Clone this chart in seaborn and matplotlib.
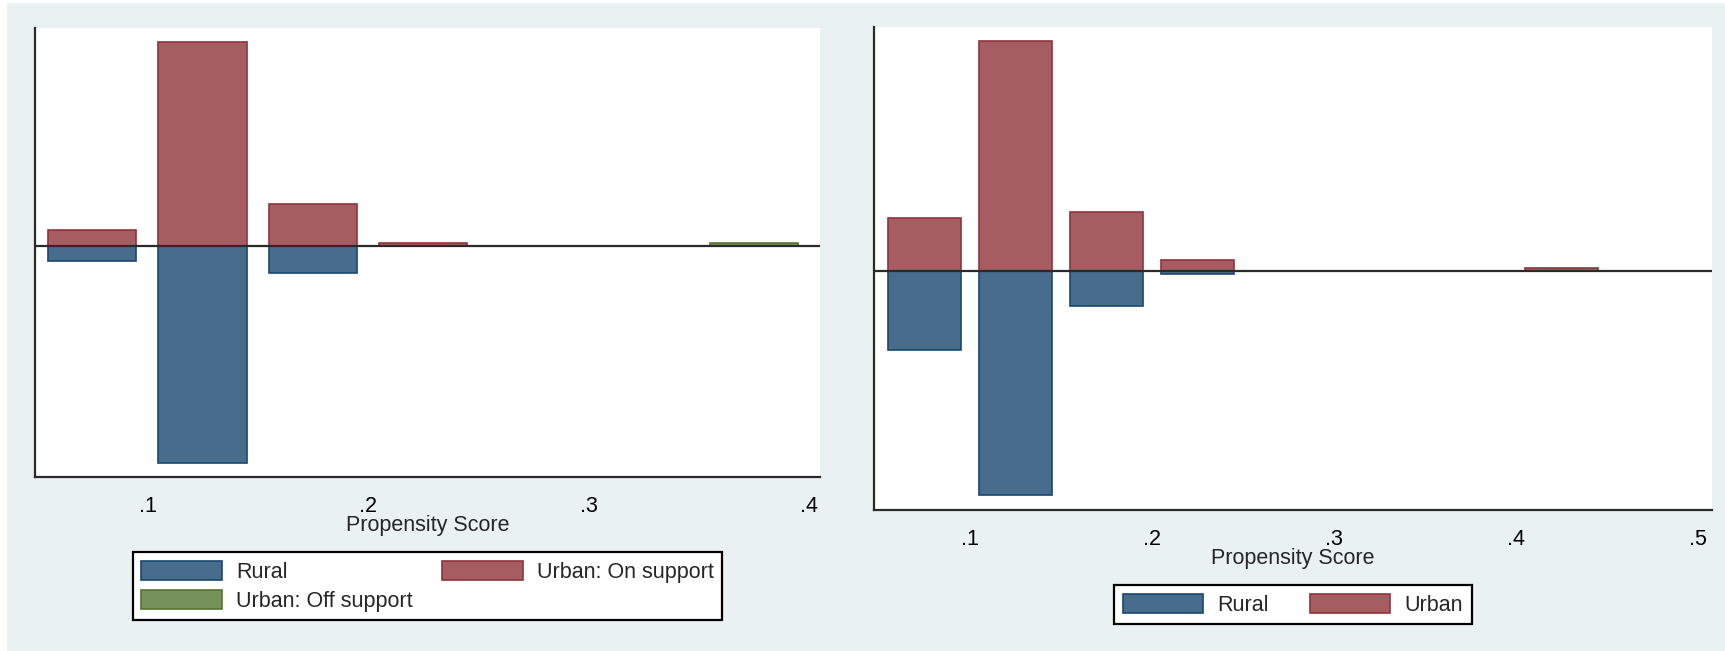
import numpy as np
import pandas as pd
import matplotlib
matplotlib.use("Agg")
import matplotlib.pyplot as plt
from matplotlib.patches import Patch, Rectangle
import seaborn as sns

# ---- data: propensity-score histograms (bin midpoints, share per bin) ----
left_bins_rural = [0.075, 0.125, 0.175]
left_rural = [0.061, 0.835, 0.104]
left_bins_on = [0.075, 0.125, 0.175, 0.225]
left_urban_on = [0.062, 0.785, 0.161, 0.011]
left_bins_off = [0.375]
left_urban_off = [0.011]
left_ticks = [0.1, 0.2, 0.3, 0.4]
left_ticklabels = [".1", ".2", ".3", ".4"]

right_bins_rural = [0.075, 0.125, 0.175, 0.225]
right_rural = [0.232, 0.655, 0.103, 0.010]
right_bins_urban = [0.075, 0.125, 0.175, 0.225, 0.425]
right_urban = [0.154, 0.670, 0.171, 0.030, 0.007]
right_ticks = [0.1, 0.2, 0.3, 0.4, 0.5]
right_ticklabels = [".1", ".2", ".3", ".4", ".5"]

x_title = "Propensity Score"

# ---- styling ----
sns.set_style("white")
plt.rcParams["font.family"] = ["Liberation Sans", "DejaVu Sans"]
FS = 15.5
BG = "#e9f1f2"
AXC = "#2a2a2a"
fills = {
    "Rural": "#486c8c",
    "Urban: On support": "#a65d62",
    "Urban: Off support": "#77915a",
    "Urban": "#a65d62",
}
edges = {
    "Rural": "#1a476f",
    "Urban: On support": "#90353b",
    "Urban: Off support": "#55752f",
    "Urban": "#90353b",
}

fig = plt.figure(figsize=(17.25, 6.51), dpi=100, facecolor="white")
fig.add_artist(Rectangle((7 / 1725, 0), 1 - 7 / 1725, 1 - 3 / 651,
                         transform=fig.transFigure, facecolor=BG,
                         edgecolor="none", zorder=-5))

ax_l = fig.add_axes([35 / 1725, 1 - 476.5 / 651, 785 / 1725, 448.5 / 651])
ax_r = fig.add_axes([873.5 / 1725, 1 - 510 / 651, 838.5 / 1725, 483 / 651])


def frame(groups):
    parts = []
    for name, xs, ys, sign in groups:
        parts.append(pd.DataFrame({"score": xs,
                                   "share": sign * np.asarray(ys, float),
                                   "group": name}))
    return pd.concat(parts, ignore_index=True)


def draw(ax, df, order, xlim, ylim, ticks, ticklabels):
    ax.set_facecolor("white")
    sns.barplot(data=df, x="score", y="share", hue="group", hue_order=order,
                palette={k: fills[k] for k in order}, saturation=1,
                native_scale=True, dodge=False, width=0.8, errorbar=None,
                linewidth=1.2, legend=False, ax=ax)
    fill_to_edge = {matplotlib.colors.to_hex(fills[k]): edges[k] for k in order}
    for p in ax.patches:
        fc = matplotlib.colors.to_hex(p.get_facecolor()[:3])
        p.set_edgecolor(fill_to_edge.get(fc, AXC))
        p.set_alpha(1)
    ax.axhline(0, color=AXC, lw=1.6, zorder=5)
    ax.set_xlim(*xlim)
    ax.set_ylim(*ylim)
    ax.set_xticks(ticks)
    ax.set_xticklabels(ticklabels, fontsize=FS)
    ax.set_yticks([])
    ax.set_ylabel("")
    ax.set_xlabel(x_title, fontsize=FS, labelpad=-1.5)
    for s in ["top", "right"]:
        ax.spines[s].set_visible(False)
    for s in ["left", "bottom"]:
        ax.spines[s].set_color(AXC)
        ax.spines[s].set_linewidth(1.6)
    ax.tick_params(axis="x", direction="out", length=5, width=1.4,
                   color=AXC, pad=9, labelcolor="black")


left_df = frame([
    ("Rural", left_bins_rural, left_rural, -1),
    ("Urban: On support", left_bins_on, left_urban_on, 1),
    ("Urban: Off support", left_bins_off, left_urban_off, 1),
])
right_df = frame([
    ("Rural", right_bins_rural, right_rural, -1),
    ("Urban", right_bins_urban, right_urban, 1),
])

draw(ax_l, left_df, ["Rural", "Urban: On support", "Urban: Off support"],
     (0.049, 0.405), (-0.888, 0.837), left_ticks, left_ticklabels)
draw(ax_r, right_df, ["Rural", "Urban"],
     (0.047, 0.5076), (-0.699, 0.712), right_ticks, right_ticklabels)


def make_legend(ax, names, anchor_y, colspace):
    handles = [Patch(facecolor=fills[n], edgecolor=edges[n], linewidth=1.2)
               for n in names]
    leg = ax.legend(handles, names, loc="center", ncol=2,
                    bbox_to_anchor=(0.5, anchor_y), bbox_transform=ax.transAxes,
                    fontsize=FS, frameon=True, fancybox=False, framealpha=1,
                    handlelength=3.75, handleheight=1.0, handletextpad=0.65,
                    labelspacing=0.32, borderpad=0.4, columnspacing=colspace)
    fr = leg.get_frame()
    fr.set_edgecolor("black")
    fr.set_linewidth(1.6)
    fr.set_facecolor("white")
    return leg


# column-major fill: Rural / Off support in the first column
make_legend(ax_l, ["Rural", "Urban: Off support", "Urban: On support"],
            -0.245, 1.35)
make_legend(ax_r, ["Rural", "Urban"], -0.196, 1.9)

fig.savefig("out.png", dpi=100, facecolor=fig.get_facecolor())
